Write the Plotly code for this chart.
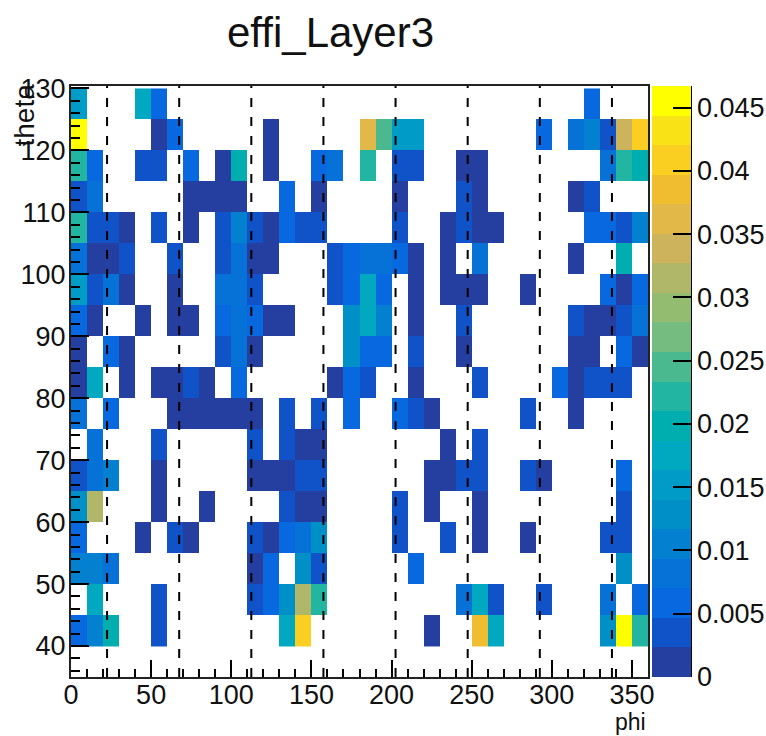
import plotly.graph_objects as go

FONT = "Liberation Sans"
phi_centers = [5 + 10 * i for i in range(36)]
theta_centers = [42.5 + 5 * i for i in range(18)]

# Bin contents: phi bin low edge -> efficiency
theta_40 = {0: .0058, 10: .0105, 20: .0199, 50: .0035, 130: .0175, 140: .0409, 220: .0012, 250: .0386, 260: .0175, 330: .0129, 340: .0456, 350: .0222}
theta_45 = {10: .0175, 50: .0035, 110: .0035, 120: .0058, 130: .0129, 140: .0316, 150: .0222, 240: .0082, 250: .0175, 260: .0035, 290: .0035, 330: .0082, 350: .0058}
theta_50 = {0: .0105, 10: .0105, 20: .0082, 110: .0012, 120: .0058, 140: .0129, 150: .0035, 210: .0058, 340: .0129}
theta_55 = {0: .0058, 40: .0012, 60: .0035, 70: .0012, 110: .0035, 120: .0012, 130: .0058, 140: .0082, 150: .0129, 200: .0035, 230: .0035, 250: .0012, 280: .0012, 330: .0035, 340: .0035}
theta_60 = {0: .0129, 10: .0316, 50: .0012, 80: .0012, 130: .0035, 140: .0012, 150: .0012, 200: .0035, 220: .0012, 250: .0012, 340: .0035}
theta_65 = {0: .0035, 10: .0082, 20: .0105, 50: .0012, 110: .0012, 120: .0012, 130: .0012, 140: .0035, 150: .0035, 220: .0012, 230: .0012, 240: .0035, 250: .0035, 280: .0035, 290: .0012, 340: .0058}
theta_70 = {10: .0082, 50: .0035, 110: .0035, 130: .0035, 140: .0012, 150: .0012, 230: .0012, 250: .0035}
theta_75 = {0: .0082, 20: .0058, 60: .0012, 70: .0012, 80: .0012, 90: .0012, 100: .0012, 110: .0012, 130: .0035, 150: .0035, 170: .0058, 200: .0058, 210: .0035, 220: .0012, 280: .0035, 310: .0012}
theta_80 = {0: .0012, 10: .0175, 30: .0012, 50: .0012, 60: .0012, 70: .0035, 80: .0012, 100: .0058, 160: .0012, 170: .0058, 180: .0035, 210: .0012, 250: .0035, 300: .0058, 310: .0012, 320: .0035, 330: .0035, 340: .0035}
theta_85 = {0: .0012, 20: .0058, 30: .0012, 90: .0035, 100: .0082, 110: .0012, 170: .0129, 180: .0058, 190: .0058, 210: .0035, 240: .0012, 310: .0012, 320: .0012, 340: .0058, 350: .0012}
theta_90 = {0: .0058, 10: .0012, 40: .0012, 60: .0012, 70: .0012, 90: .0058, 100: .0082, 110: .0058, 120: .0012, 130: .0012, 170: .0129, 180: .0175, 190: .0105, 210: .0012, 240: .0035, 310: .0035, 320: .0012, 330: .0012, 340: .0035, 350: .0082}
theta_95 = {0: .0152, 10: .0035, 20: .0082, 30: .0012, 60: .0012, 90: .0082, 100: .0082, 110: .0035, 160: .0035, 170: .0058, 180: .0175, 190: .0058, 210: .0012, 230: .0012, 240: .0012, 250: .0012, 280: .0012, 330: .0058, 340: .0012, 350: .0058}
theta_100 = {0: .0082, 10: .0012, 20: .0012, 30: .0035, 60: .0035, 90: .0035, 100: .0082, 110: .0012, 120: .0012, 160: .0035, 170: .0058, 180: .0082, 190: .0082, 200: .0058, 210: .0012, 230: .0012, 250: .0082, 310: .0012, 340: .0199}
theta_105 = {0: .0222, 10: .0035, 20: .0035, 30: .0012, 50: .0035, 70: .0012, 90: .0035, 100: .0105, 110: .0035, 120: .0012, 130: .0058, 140: .0035, 150: .0035, 200: .0035, 230: .0012, 240: .0035, 250: .0012, 260: .0012, 320: .0058, 330: .0058, 340: .0035, 350: .0105}
theta_110 = {0: .0035, 10: .0082, 70: .0012, 80: .0012, 90: .0012, 100: .0012, 130: .0058, 150: .0012, 200: .0012, 240: .0035, 250: .0012, 310: .0012, 320: .0035}
theta_115 = {0: .0222, 10: .0058, 40: .0035, 50: .0035, 70: .0058, 90: .0012, 100: .0199, 120: .0012, 150: .0058, 160: .0082, 180: .0222, 200: .0035, 210: .0035, 240: .0012, 250: .0012, 330: .0082, 340: .0222, 350: .0199}
theta_120 = {0: .0456, 50: .0012, 60: .0058, 120: .0012, 180: .0363, 190: .0246, 200: .0152, 210: .0152, 290: .0058, 310: .0082, 320: .0105, 330: .0035, 340: .0339, 350: .0409}
theta_125 = {0: .0152, 40: .0175, 50: .0058, 320: .0058}

theta_rows = [theta_40, theta_45, theta_50, theta_55, theta_60, theta_65, theta_70, theta_75, theta_80,
              theta_85, theta_90, theta_95, theta_100, theta_105, theta_110, theta_115, theta_120, theta_125]

sector_lines = [22.5, 67.5, 112.5, 157.5, 202.5, 247.5, 292.5, 337.5]

palette = ["#243F9F", "#1052C8", "#0868E0", "#0672D8", "#0480D0", "#0090C8", "#009CC8", "#00A8C0", "#00AEAF", "#22B5A2",
           "#4AB98F", "#74BC80", "#93BC70", "#B0B768", "#CDB45C", "#E2B848", "#F0BC30", "#FBCE22", "#F9E215", "#FFFF00"]
z_max = 0.0467
cbar_ticks = [0, 0.005, 0.01, 0.015, 0.02, 0.025, 0.03, 0.035, 0.04, 0.045]
cbar_labels = ["0", "0.005", "0.01", "0.015", "0.02", "0.025", "0.03", "0.035", "0.04", "0.045"]

z = [[row.get(p - 5) for p in phi_centers] for row in theta_rows]
scale = []
for i, c in enumerate(palette):
    scale += [[i / len(palette), c], [(i + 1) / len(palette), c]]

fig = go.Figure(go.Heatmap(
    x=phi_centers, y=theta_centers, z=z, zmin=0, zmax=z_max, colorscale=scale, hoverongaps=False,
    colorbar=dict(
        thickness=39, thicknessmode="pixels", len=1.0, lenmode="fraction", x=1.0073, xanchor="left",
        y=0, yanchor="bottom", xpad=0, ypad=0, outlinewidth=0, ticks="inside", ticklen=18, tickwidth=2,
        tickcolor="black", tickvals=cbar_ticks, ticktext=cbar_labels,
        tickfont=dict(family=FONT, size=27, color="#111"),
    ),
))

for p in sector_lines:
    fig.add_shape(type="line", xref="x", yref="paper", x0=p, x1=p, y0=0, y1=1,
                  line=dict(color="black", width=2, dash="9px,10px"), layer="above")
# right edge of the colour axis
fig.add_shape(type="line", xref="paper", yref="paper", x0=1.0745, x1=1.0745, y0=0, y1=1,
              line=dict(color="black", width=2), layer="above")

axis_common = dict(showgrid=False, zeroline=False, showline=True, mirror=True, linecolor="#222", linewidth=2,
                   ticks="inside", tickcolor="black", tickwidth=2,
                   tickfont=dict(family=FONT, size=27, color="#111"))
fig.update_xaxes(range=[0, 360], tick0=0, dtick=50, ticklen=17, ticklabelstandoff=-7,
                 minor=dict(dtick=10, ticks="inside", ticklen=8, tickcolor="black", tickwidth=2), **axis_common)
fig.update_yaxes(range=[35, 130.4], tick0=0, dtick=10, ticklen=18, ticklabelstandoff=-2,
                 minor=dict(dtick=2, ticks="inside", ticklen=9, tickcolor="black", tickwidth=2), **axis_common)

fig.update_layout(
    width=766, height=736, margin=dict(l=71, r=118, t=86, b=59, autoexpand=False),
    plot_bgcolor="white", paper_bgcolor="white", showlegend=False,
    annotations=[
        dict(text="effi_Layer3", xref="paper", yref="paper", x=0.45, y=1.0, yshift=54, yanchor="middle",
             xanchor="center", showarrow=False, font=dict(family=FONT, size=42, color="#111")),
        dict(text="phi", xref="paper", yref="paper", x=1.0, y=0, yshift=-45, xanchor="right", yanchor="middle",
             showarrow=False, font=dict(family=FONT, size=23, color="#111")),
        dict(text="theta", xref="paper", yref="paper", x=0, xshift=-47, y=1.0, yshift=4, xanchor="center",
             yanchor="top", textangle=-90, showarrow=False, font=dict(family=FONT, size=28, color="#111")),
    ],
)

fig.write_html("out.html", config=dict(displayModeBar=False),
               post_script="document.body.style.margin='0';document.body.style.overflow='hidden';")
